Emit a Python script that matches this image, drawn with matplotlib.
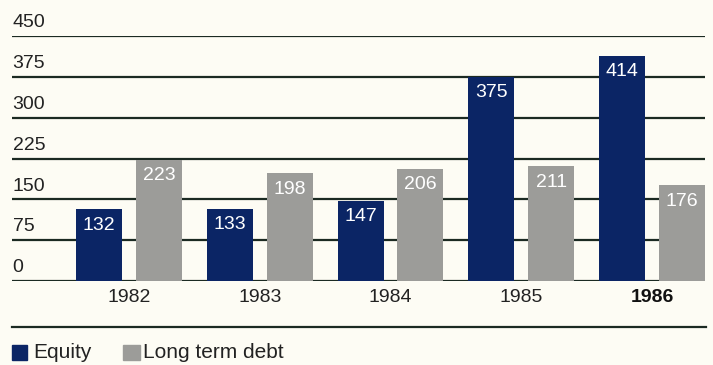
import matplotlib.pyplot as plt
from matplotlib.patches import Rectangle
from matplotlib.lines import Line2D

years = ["1982", "1983", "1984", "1985", "1986"]
equity = [132, 133, 147, 375, 414]
debt = [223, 198, 206, 211, 176]
yticks = [0, 75, 150, 225, 300, 375, 450]

navy = "#0b2565"
grey = "#9c9c99"
ink = "#1b2a22"
paper = "#fdfcf4"

plt.rcParams["font.family"] = ["Liberation Sans", "DejaVu Sans"]

W, H = 713, 365
fig = plt.figure(figsize=(W / 100, H / 100), dpi=100, facecolor=paper)

# plot area in pixel terms: 0 line at y=281, 450 line at y=36
left, right, bottom, top = 12, 705, 281, 36
ax = fig.add_axes([left / W, 1 - bottom / H, (right - left) / W, (bottom - top) / H])
ax.set_facecolor(paper)
ax.set_ylim(0, 450)
ax.set_xlim(-0.895, 4.405)
ax.axis("off")

for v in yticks:
    ax.axhline(v, color=ink, lw=1.6, zorder=1)
    ax.annotate(str(v), (0, v), xycoords=("axes fraction", "data"),
                xytext=(0.5, 9.5), textcoords="offset points",
                ha="left", va="center", fontsize=14, color="#222222")

w = 0.352
off = 0.229
for i, (e, d) in enumerate(zip(equity, debt)):
    for x, v, c in [(i - off, e, navy), (i + off, d, grey)]:
        ax.bar(x, v, width=w, color=c, zorder=2, clip_on=False)
        ax.annotate(str(v), (x, v), xytext=(0, -11.5), textcoords="offset points",
                    ha="center", va="center", fontsize=14, color="white",
                    zorder=3)
    ax.annotate(years[i], (i, 0), xytext=(0, -12), textcoords="offset points",
                ha="center", va="center", fontsize=14,
                color="#111111" if i == 4 else "#222222",
                fontweight="bold" if i == 4 else "normal")

# separator and legend
fig.add_artist(Line2D([12 / W, 706 / W], [1 - 327 / H] * 2, color=ink, lw=1.6))
fig.add_artist(Rectangle((12 / W, 1 - 360 / H), 15 / W, 15 / H, color=navy))
fig.text(33 / W, 1 - 352 / H, "Equity", fontsize=15, va="center", color="#222222")
fig.add_artist(Rectangle((123 / W, 1 - 360 / H), 17 / W, 15 / H, color=grey))
fig.text(143 / W, 1 - 352 / H, "Long term debt", fontsize=15, va="center", color="#222222")

fig.savefig("out.png", dpi=100, facecolor=paper)
